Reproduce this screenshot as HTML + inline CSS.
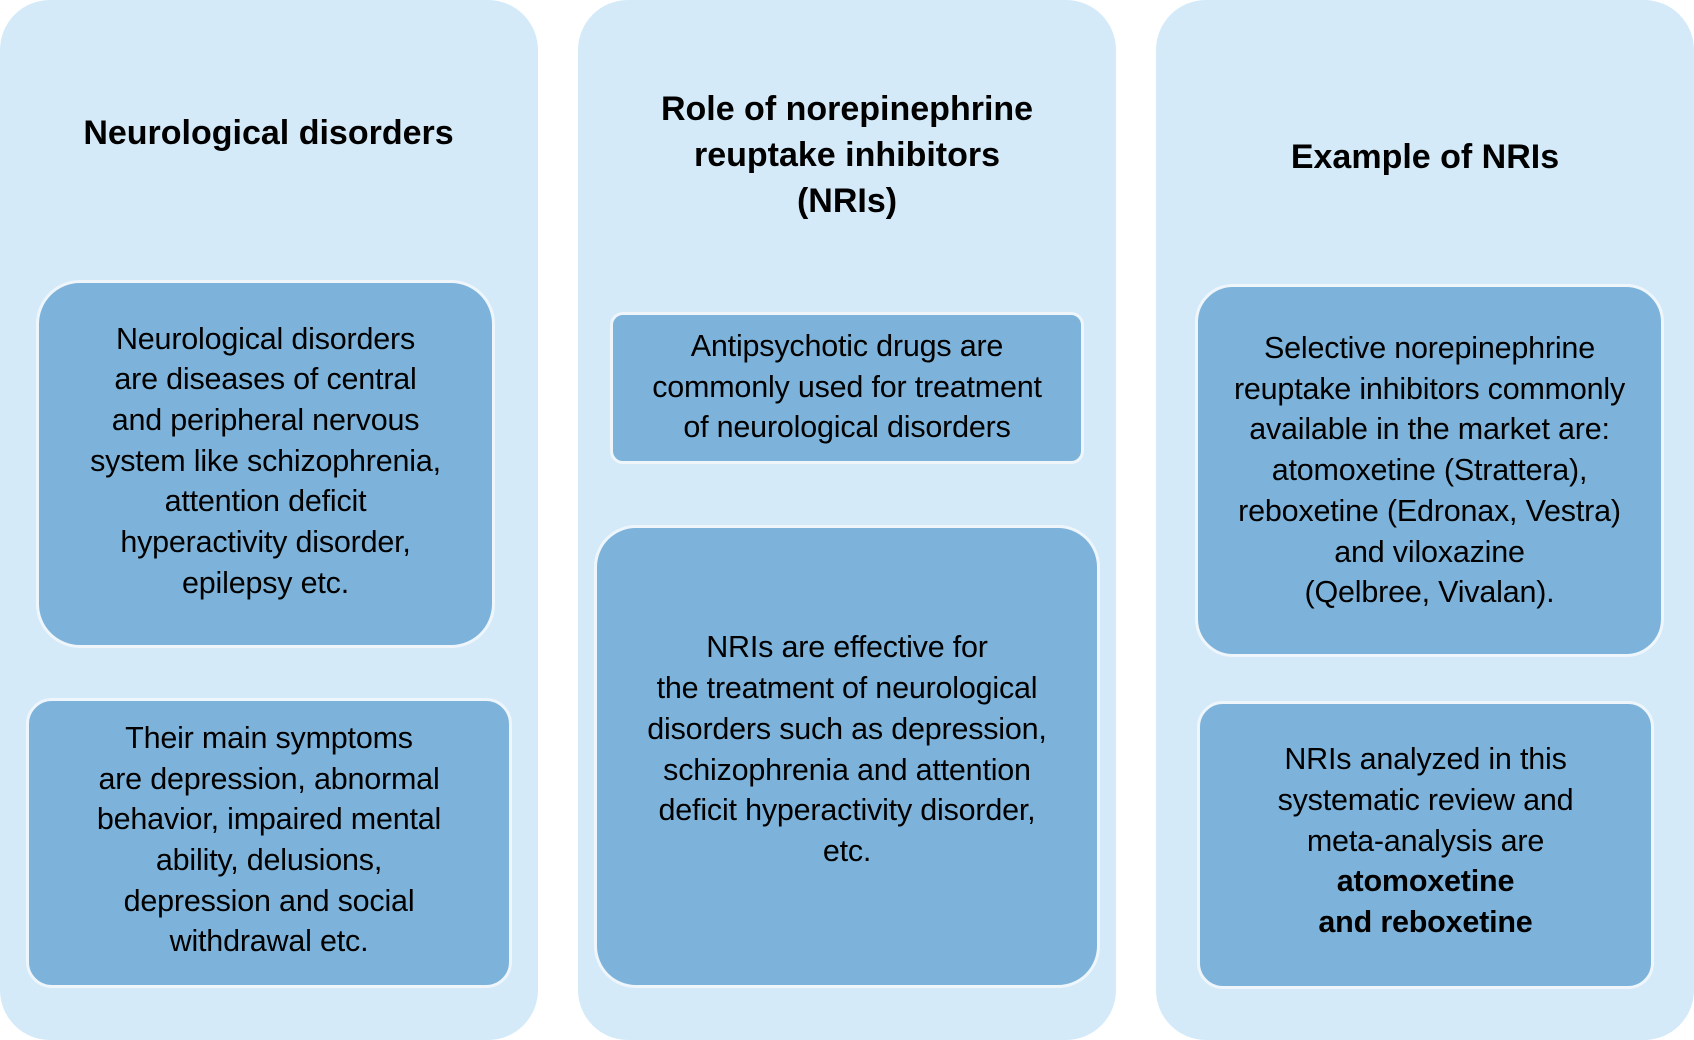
<!DOCTYPE html>
<html><head><meta charset="utf-8"><style>
html,body{margin:0;padding:0;}
body{width:1694px;height:1040px;position:relative;background:#fff;font-family:"Liberation Sans",sans-serif;color:#000;overflow:hidden;}
.col{position:absolute;top:0;height:1040px;width:538px;background:#d4eaf9;border-radius:50px;}
.h{position:absolute;text-align:center;font-weight:bold;font-size:34px;line-height:46px;letter-spacing:0px;}
.b{position:absolute;background:#7db3da;border:3px solid #eef6fc;box-sizing:border-box;display:flex;align-items:center;justify-content:center;text-align:center;font-size:30.5px;line-height:40.7px;letter-spacing:-0.2px;padding-bottom:6px;}
.b>div{width:100%;}
</style></head><body>
<div class="col" style="left:0"></div>
<div class="col" style="left:578px"></div>
<div class="col" style="left:1156px"></div>

<div class="h" style="left:0;width:537px;top:110px">Neurological disorders</div>
<div class="h" style="left:578px;width:538px;top:86px">Role of norepinephrine<br>reuptake inhibitors<br>(NRIs)</div>
<div class="h" style="left:1156px;width:538px;top:134px">Example of NRIs</div>

<div class="b" style="left:36px;top:280px;width:459px;height:368px;border-radius:44px"><div>Neurological disorders<br>are diseases of central<br>and peripheral nervous<br>system like schizophrenia,<br>attention deficit<br>hyperactivity disorder,<br>epilepsy etc.</div></div>
<div class="b" style="left:26px;top:698px;width:486px;height:290px;border-radius:26px"><div>Their main symptoms<br>are depression, abnormal<br>behavior, impaired mental<br>ability, delusions,<br>depression and social<br>withdrawal etc.</div></div>

<div class="b" style="left:610px;top:312px;width:474px;height:152px;border-radius:13px;padding-bottom:2px"><div>Antipsychotic drugs are<br>commonly used for treatment<br>of neurological disorders</div></div>
<div class="b" style="left:594px;top:525px;width:506px;height:463px;border-radius:42px;padding-bottom:14px"><div>NRIs are effective for<br>the treatment of neurological<br>disorders such as depression,<br>schizophrenia and attention<br>deficit hyperactivity disorder,<br>etc.</div></div>

<div class="b" style="left:1195px;top:284px;width:469px;height:373px;border-radius:38px;padding-bottom:0"><div>Selective norepinephrine<br>reuptake inhibitors commonly<br>available in the market are:<br>atomoxetine (Strattera),<br>reboxetine (Edronax, Vestra)<br>and viloxazine<br>(Qelbree, Vivalan).</div></div>
<div class="b" style="left:1197px;top:701px;width:457px;height:288px;border-radius:26px;padding-bottom:8px"><div>NRIs analyzed in this<br>systematic review and<br>meta-analysis are<br><b>atomoxetine<br>and reboxetine</b></div></div>
</body></html>
